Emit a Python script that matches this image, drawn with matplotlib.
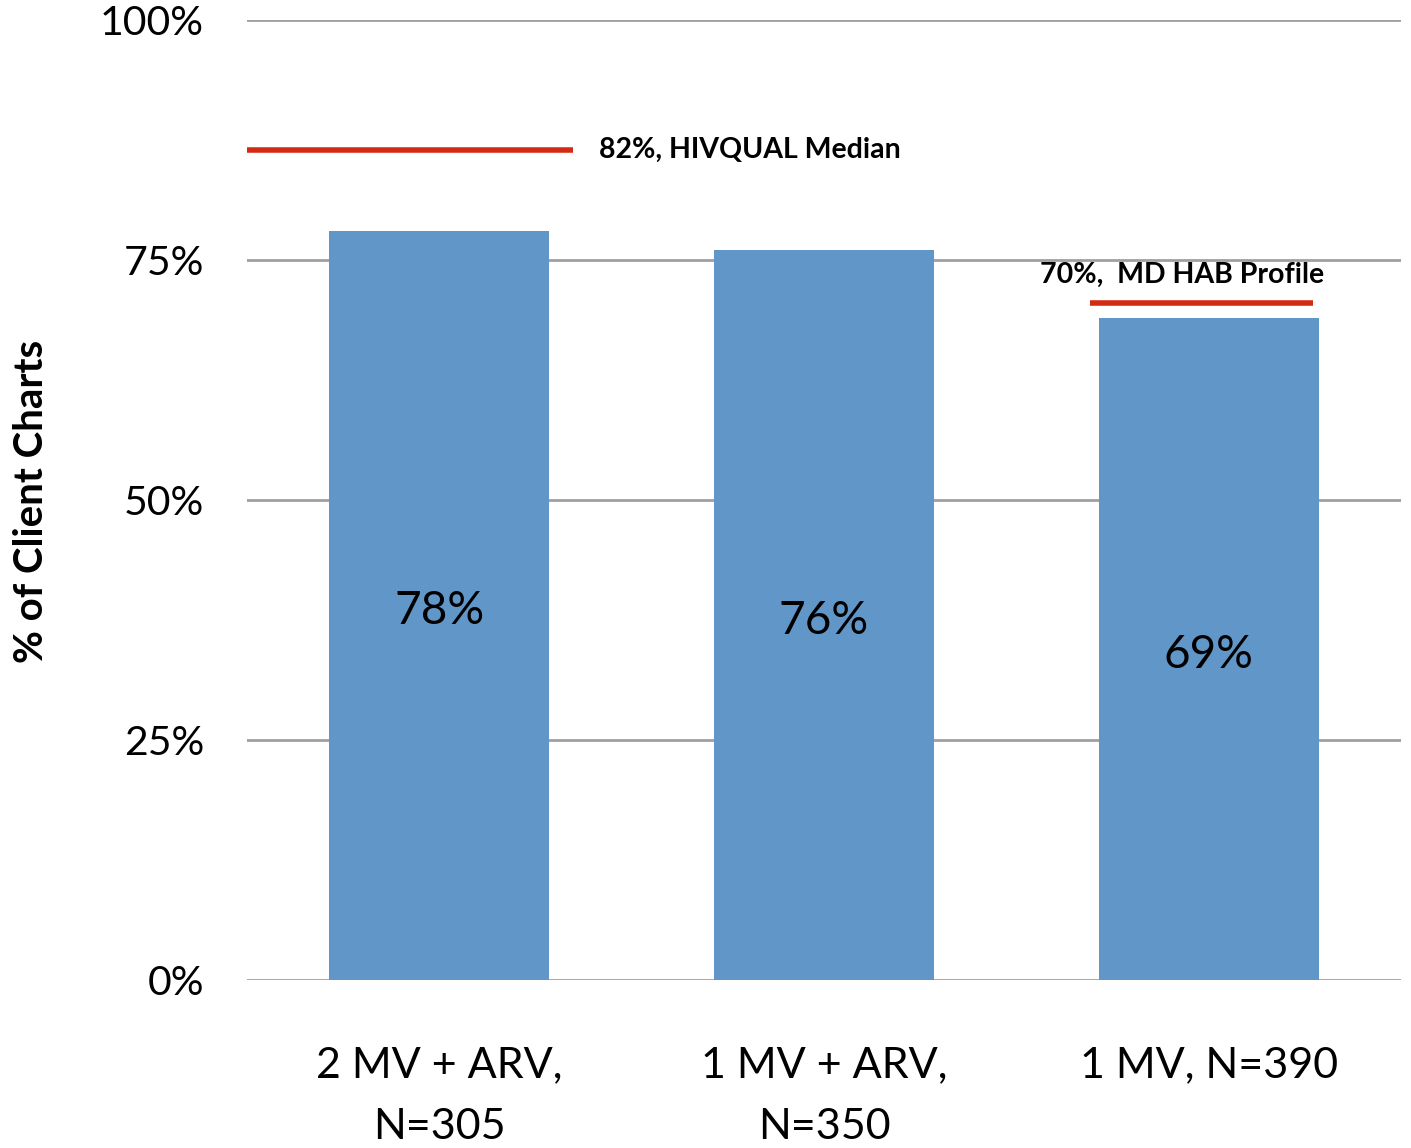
import matplotlib
matplotlib.use("Agg")
import matplotlib.pyplot as plt

# Datos del grafico
categories = ["2 MV + ARV,\nN=305", "1 MV + ARV,\nN=350", "1 MV, N=390"]
values = [78, 76, 69]
bar_labels = ["78%", "76%", "69%"]
y_ticks = [0, 25, 50, 75, 100]
y_tick_labels = ["0%", "25%", "50%", "75%", "100%"]

# Lineas de referencia (nivel dibujado, texto)
hivqual_level = 86.5
hivqual_text = "82%, HIVQUAL Median"
hab_level = 70.5
hab_text = "70%,  MD HAB Profile"

plt.rcParams["font.family"] = ["Lato", "DejaVu Sans"]

fig = plt.figure(figsize=(14.11, 11.48), dpi=100)
ax = fig.add_axes([247 / 1411, 1 - 980 / 1148, 1154 / 1411, 960 / 1148])

x = list(range(len(categories)))
ax.bar(x, values, width=0.572, color="#6196c8", zorder=3)

# Etiquetas dentro de las barras
for xi, v, lab in zip(x, values, bar_labels):
    ax.text(xi, v / 2 - 0.6, lab, ha="center", va="center", fontsize=33, color="black", zorder=4)

# Lineas rojas de referencia
ax.plot([-0.5, 0.347], [hivqual_level, hivqual_level], color="#d42a14", lw=4, solid_capstyle="butt",
        zorder=4, clip_on=False)
ax.text(0.414, hivqual_level, hivqual_text, ha="left", va="center", fontsize=20.5,
        fontweight="bold", zorder=4)
ax.plot([1.691, 2.271], [hab_level, hab_level], color="#d42a14", lw=4, solid_capstyle="butt", zorder=4)
ax.text(1.931, 73.5, hab_text, ha="center", va="center", fontsize=20.5, fontweight="bold", zorder=4)

ax.set_xlim(-0.5, 2.5)
ax.set_ylim(0, 100)
ax.set_yticks(y_ticks)
ax.set_yticklabels(y_tick_labels, fontsize=29.5)
ax.set_xticks(x)
ax.set_xticklabels(categories, fontsize=31, linespacing=1.75)
ax.tick_params(axis="both", length=0)
ax.tick_params(axis="y", pad=31)
ax.tick_params(axis="x", pad=48)

ax.grid(axis="y", color="#a0a0a0", lw=2, zorder=0)
for s in ax.spines.values():
    s.set_visible(False)

ax.set_ylabel("% of Client Charts", fontsize=29, fontweight="bold")
ax.yaxis.set_label_coords(-0.171, 0.498)

fig.savefig("out.png", dpi=100)
